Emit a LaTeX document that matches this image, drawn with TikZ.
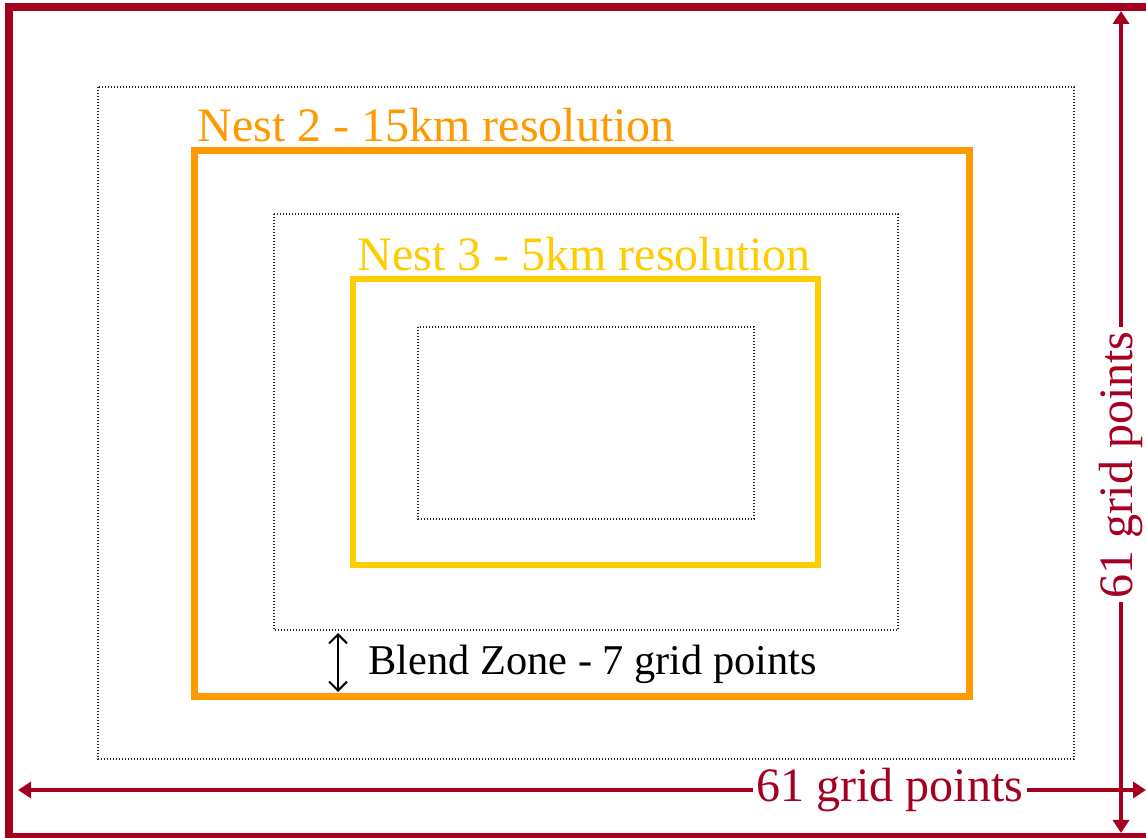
\documentclass[tikz,border=0pt]{standalone}
\usepackage{fontspec}
\setmainfont{Liberation Serif}
\usetikzlibrary{positioning,arrows.meta,calc}
\definecolor{domainred}{RGB}{165,0,33}
\definecolor{nesttwo}{RGB}{255,153,0}
\definecolor{nestthree}{RGB}{255,204,0}

\begin{document}
\begin{tikzpicture}[x=0.5pt, y=-0.5pt,
    dot_box/.style={draw=black!85, line width=0.65pt, dash pattern=on 0.6pt off 0.9pt},
    nest_label/.style={anchor=base west, inner sep=0pt, font=\fontsize{24}{28}\selectfont},
    dim_arrow/.style={draw=domainred, line width=2pt, {Triangle[length=6.5pt,width=8pt]}-{Triangle[length=6.5pt,width=8pt]}},
    dim_label/.style={fill=white, text=domainred, inner xsep=2pt, inner ysep=0pt, font=\fontsize{24}{28}\selectfont}]
    \useasboundingbox (0,0) rectangle (1146,838);
    % parent domain
    \draw[domainred, line width=4pt] (9,7) rectangle (1151,837);
    % blend zones
    \draw[dot_box] (98,87) rectangle (1074,759);
    \draw[dot_box] (274,214) rectangle (898,630);
    \draw[dot_box] (418,327) rectangle (754,519);
    % nests
    \draw[nesttwo, line width=3.5pt] (194,151) rectangle (969,697);
    \draw[nestthree, line width=3pt] (353,279) rectangle (818,565);
    \node[nest_label, text=nesttwo] (nest2) at (197,142) {Nest 2 - 15km resolution};
    \node[nest_label, text=nestthree] (nest3) at (357,271) {Nest 3 - 5km resolution};

    \coordinate (blend_top) at (338,633);
    \coordinate (blend_bot) at (338,692);
    \draw[line width=1pt, {Straight Barb[length=4.5pt,width=9pt]}-{Straight Barb[length=4.5pt,width=9pt]}] (blend_top) -- (blend_bot);
    \node[anchor=base west, inner sep=0pt, font=\fontsize{21.2}{25}\selectfont] (blend) at (368,675) {Blend Zone - 7 grid points};

    % dimensions
    \coordinate (we_west) at (18,790);
    \coordinate (we_east) at (1146,790);
    \draw[dim_arrow] (we_west) -- node[dim_label, pos=0.773] (we_label) {61 grid points} (we_east);
    \coordinate (sn_north) at (1121,11);
    \coordinate (sn_south) at (1121,833);
    \draw[dim_arrow] (sn_south) -- node[dim_label, pos=0.448, rotate=90] (sn_label) {61 grid points} (sn_north);
\end{tikzpicture}
\end{document}
